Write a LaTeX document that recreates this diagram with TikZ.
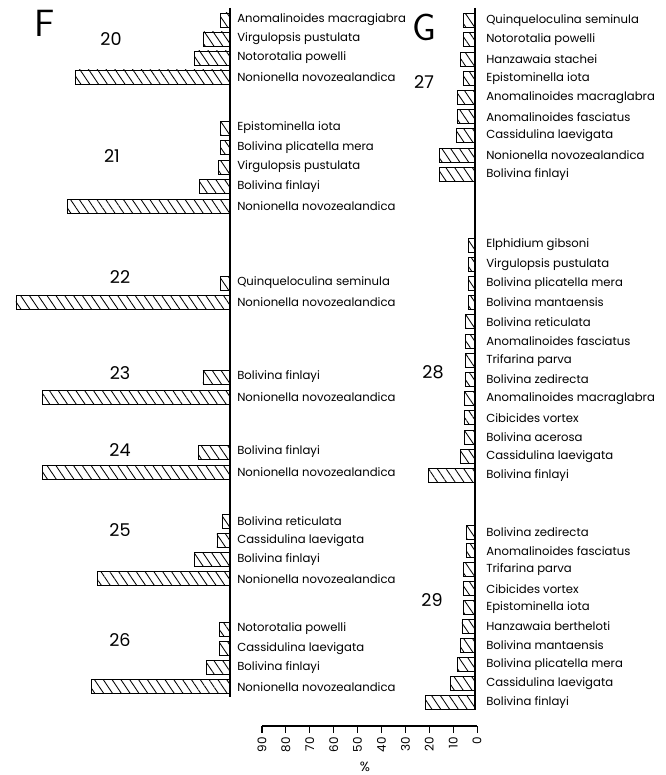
\documentclass[tikz,border=0pt]{standalone}
\usepackage{fontspec}
\setmainfont{Poppins}
\usepackage{tikz}
\usetikzlibrary{patterns.meta}

\tikzset{
  hatchbar/.style={draw, line width=0.65pt, pattern={Lines[angle=-56, distance=5.2pt, line width=0.6pt]}},
  taxon/.style={anchor=west, inner sep=0pt, font=\fontsize{8.3}{10}\selectfont},
  sample/.style={inner sep=0pt, font=\fontsize{12.5}{14}\selectfont},
  panel/.style={inner sep=0pt, font=\sffamily\fontsize{27}{30}\selectfont},
  tick/.style={inner sep=0pt, rotate=90, anchor=east, font=\fontsize{8.5}{10}\selectfont},
}

\begin{document}
\begin{tikzpicture}[x=0.025cm, y=-0.025cm]
\useasboundingbox (0,0) rectangle (665,775);

% Panel F: zero line
\draw[line width=0.9pt] (230,8) -- (230,697);
\node[panel] (pF) at (45,23) {F};

% Sample 20
\node[sample] (s20) at (111,39) {20};
\foreach \w/\name [count=\i] in {4.2/Anomalinoides macragiabra, 11/Virgulopsis pustulata, 14.8/Notorotalia powelli, 65.4/Nonionella novozealandica} {
    \draw[hatchbar] (230-\w*2.37,20+\i*19-19-7) rectangle (230,20+\i*19-19+7);
    \node[taxon] (t20-\i) at (237,20+\i*19-19) {\name};
}

% Sample 21
\node[sample] (s21) at (112,156) {21};
\foreach \w/\name [count=\i] in {4.2/Epistominella iota, 4.2/Bolivina plicatella mera, 5/Virgulopsis pustulata, 13/Bolivina finlayi, 68.4/Nonionella novozealandica} {
    \draw[hatchbar] (230-\w*2.37,128+\i*19.5-19.5-7) rectangle (230,128+\i*19.5-19.5+7);
    \node[taxon] (t21-\i) at (237,128+\i*19.5-19.5) {\name};
}

% Sample 22
\node[sample] (s22) at (120,277) {22};
\foreach \w/\name [count=\i] in {4.2/Quinqueloculina seminula, 90.3/Nonionella novozealandica} {
    \draw[hatchbar] (230-\w*2.37,283+\i*19.5-19.5-7) rectangle (230,283+\i*19.5-19.5+7);
    \node[taxon] (t22-\i) at (237,283+\i*19.5-19.5) {\name};
}

% Sample 23
\node[sample] (s23) at (120,373) {23};
\foreach \w/\name [count=\i] in {11.4/Bolivina finlayi, 79/Nonionella novozealandica} {
    \draw[hatchbar] (230-\w*2.37,377+\i*20-20-7) rectangle (230,377+\i*20-20+7);
    \node[taxon] (t23-\i) at (237,377+\i*20-20) {\name};
}

% Sample 24
\node[sample] (s24) at (120,450) {24};
\foreach \w/\name [count=\i] in {13.5/Bolivina finlayi, 79/Nonionella novozealandica} {
    \draw[hatchbar] (230-\w*2.37,452+\i*20-20-7) rectangle (230,452+\i*20-20+7);
    \node[taxon] (t24-\i) at (237,452+\i*20-20) {\name};
}

% Sample 25
\node[sample] (s25) at (120,530) {25};
\foreach \w/\name [count=\i] in {3/Bolivina reticulata, 5.5/Cassidulina laevigata, 14.8/Bolivina finlayi, 56/Nonionella novozealandica} {
    \draw[hatchbar] (230-\w*2.37,521+\i*19.3-19.3-7) rectangle (230,521+\i*19.3-19.3+7);
    \node[taxon] (t25-\i) at (237,521+\i*19.3-19.3) {\name};
}

% Sample 26
\node[sample] (s26) at (120,640) {26};
\foreach \w/\name [count=\i] in {4.6/Notorotalia powelli, 4.6/Cassidulina laevigata, 10/Bolivina finlayi, 58.6/Nonionella novozealandica} {
    \draw[hatchbar] (230-\w*2.37,629+\i*19.3-19.3-7) rectangle (230,629+\i*19.3-19.3+7);
    \node[taxon] (t26-\i) at (237,629+\i*19.3-19.3) {\name};
}

% Panel G: zero line
\draw[line width=0.9pt] (475,8) -- (475,709);
\node[panel] (pG) at (424,27) {G};

% Sample 27
\node[sample] (s27) at (424,82) {27};
\foreach \w/\name [count=\i] in {5/Quinqueloculina seminula, 5/Notorotalia powelli, 6/Hanzawaia stachei, 5/Epistominella iota, 7.5/Anomalinoides macraglabra, 7.5/Anomalinoides fasciatus, 8/Cassidulina laevigata, 15/Nonionella novozealandica, 15/Bolivina finlayi} {
    \draw[hatchbar] (475-\w*2.37,20.7+\i*19.2-19.2-7) rectangle (475,20.7+\i*19.2-19.2+7);
    \node[taxon] (t27-\i) at (486,20.7+\i*19.2-19.2) {\name};
}

% Sample 28
\node[sample] (s28) at (433,372) {28};
\foreach \w/\name [count=\i] in {2.6/Elphidium gibsoni, 2.6/Virgulopsis pustulata, 2.6/Bolivina plicatella mera, 2.6/Bolivina mantaensis, 4/Bolivina reticulata, 4/Anomalinoides fasciatus, 4/Trifarina parva, 4/Bolivina zedirecta, 4.5/Anomalinoides macraglabra, 4.5/Cibicides vortex, 4.6/Bolivina acerosa, 6/Cassidulina laevigata, 19.8/Bolivina finlayi} {
    \draw[hatchbar] (475-\w*2.37,245+\i*19.2-19.2-7) rectangle (475,245+\i*19.2-19.2+7);
    \node[taxon] (t28-\i) at (486,245+\i*19.2-19.2) {\name};
}

% Sample 29
\node[sample] (s29) at (432,600) {29};
\foreach \w/\name [count=\i] in {3.8/Bolivina zedirecta, 3.8/Anomalinoides fasciatus, 5/Trifarina parva, 5/Cibicides vortex, 5/Epistominella iota, 5.5/Hanzawaia bertheloti, 6.3/Bolivina mantaensis, 7.2/Bolivina plicatella mera, 10.5/Cassidulina laevigata, 20.7/Bolivina finlayi} {
    \draw[hatchbar] (475-\w*2.37,532+\i*18.9-18.9-7) rectangle (475,532+\i*18.9-18.9+7);
    \node[taxon] (t29-\i) at (486,532+\i*18.9-18.9) {\name};
}

% Percentage scale
\draw[line width=0.8pt] (262,726) -- (477,726);
\foreach \j in {0,...,9} {
    \pgfmathtruncatemacro{\val}{90-10*\j}
    \draw[line width=0.8pt] (262+\j*23.9,726) -- (262+\j*23.9,733);
    \node[tick] (k\j) at (262+\j*23.9,737) {\val};
}
\node[inner sep=0pt, font=\fontsize{9.5}{10}\selectfont] (pct) at (365,767) {\%};

\end{tikzpicture}
\end{document}
